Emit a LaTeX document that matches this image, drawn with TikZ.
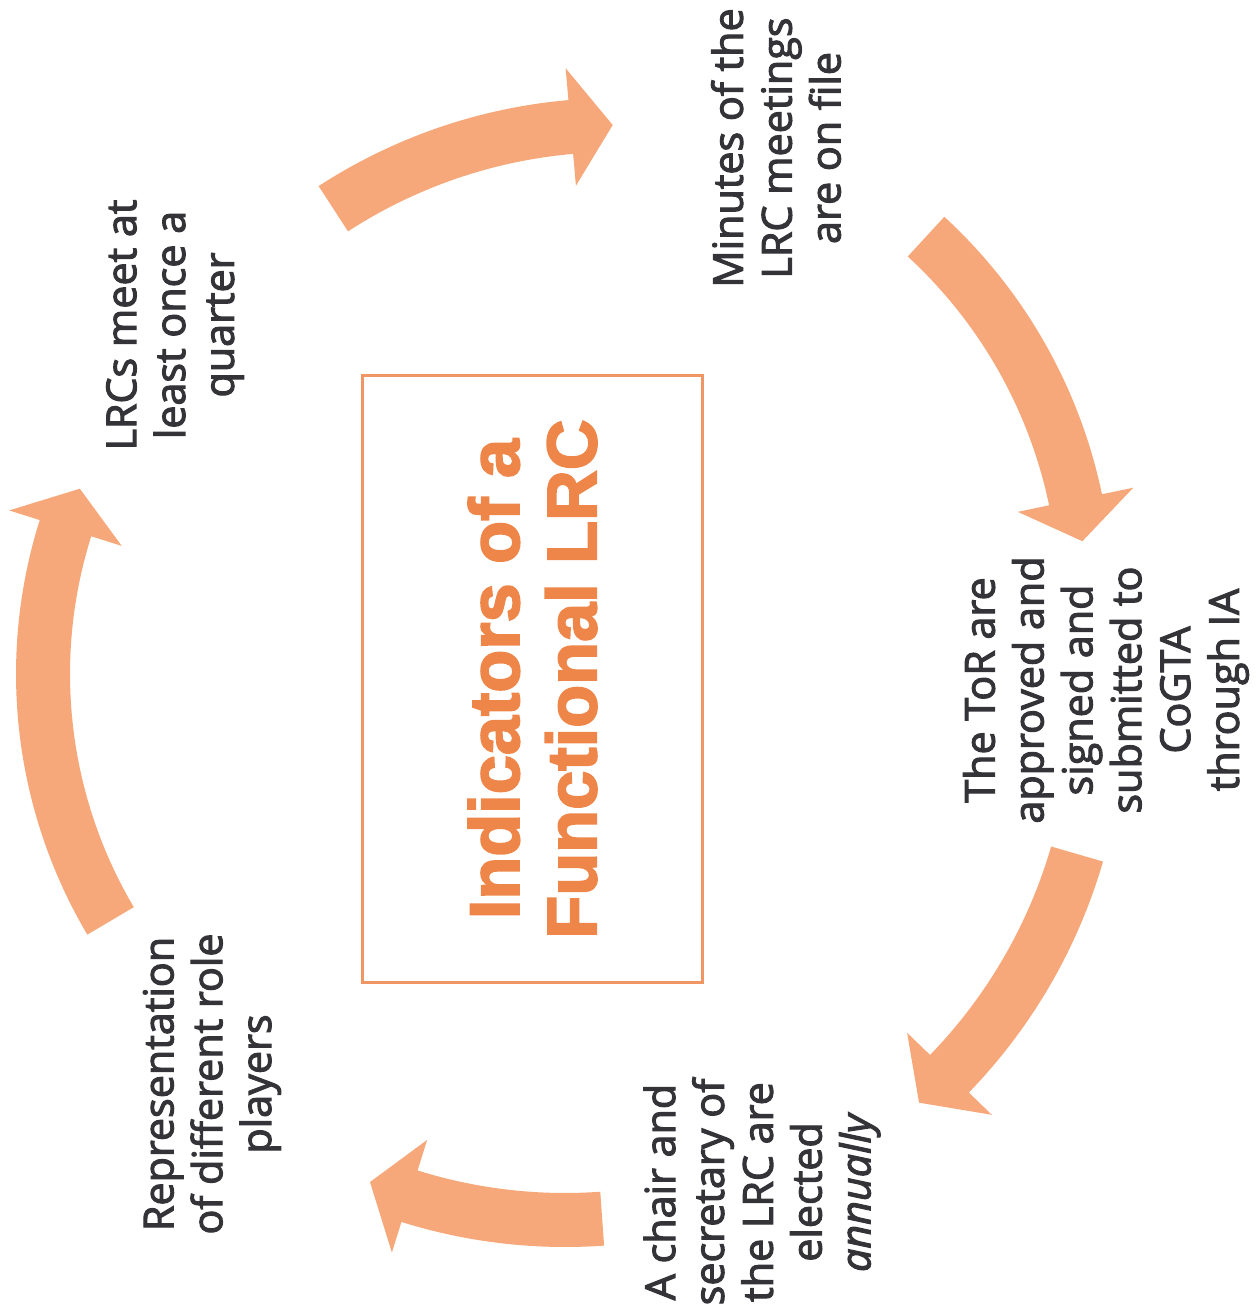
\documentclass[tikz,border=0pt]{standalone}
\usepackage{fontspec}
\setmainfont{Open Sans}[FakeBold=2.6]
\newfontfamily\titlefont{Liberation Sans}[FakeBold=2.6]
\usepackage{tikz}
\usetikzlibrary{calc}
\definecolor{arroworange}{RGB}{246,168,122}
\definecolor{boxorange}{RGB}{240,150,100}
\definecolor{titleorange}{RGB}{238,134,74}
\definecolor{labelgray}{RGB}{52,52,56}
\tikzset{
    label text/.style={rotate=90, align=center, text=labelgray, inner sep=0,
        font=\fontsize{23.5}{27.8}\selectfont},
    title box/.style={rotate=90, draw=boxorange, line width=1.7pt, align=center,
        text=titleorange, minimum width=12.16cm, minimum height=6.82cm,
        font=\titlefont\bfseries\fontsize{40}{44}\selectfont},
}
% bent arrow: centre x, centre y, radius, tail angle, head angle
\newcommand{\bentarrow}[5]{%
    \pgfmathsetmacro{\ro}{#3+27}
    \pgfmathsetmacro{\ri}{#3-27}
    \pgfmathsetmacro{\hro}{#3+59}
    \pgfmathsetmacro{\hri}{#3-59}
    \pgfmathsetmacro{\tipang}{#5+42/#3*57.3}
    \fill[arroworange] ($(#1,#2)+(#4:\ro)$) arc[start angle=#4, end angle=#5, radius=\ro]
        -- ($(#1,#2)+(#5:\hro)$) -- ($(#1,#2)+(\tipang:#3)$) -- ($(#1,#2)+(#5:\hri)$)
        -- ($(#1,#2)+(#5:\ri)$) arc[start angle=#5, end angle=#4, radius=\ri] -- cycle;
}

\begin{document}
\begin{tikzpicture}[x=0.02cm, y=-0.02cm]
    \useasboundingbox (0,0) rectangle (1255,1307);

    \node[title box] (title) at (532.5,679) {Indicators of a\\Functional LRC};

    \node[label text] (meet) at (175,325) {LRCs meet at\\least once a\\quarter};
    \node[label text] (minutes) at (776,148) {Minutes of the\\LRC meetings\\are on file};
    \node[label text] (tor) at (1106,690) {The ToR are\\approved and\\signed and\\submitted to\\CoGTA\\through IA};
    \node[label text] (chair) at (762,1192) {A chair and\\secretary of\\the LRC are\\elected\\\textit{annually}};
    \node[label text] (repr) at (212,1084) {Representation\\of different role\\players};

    \bentarrow{616}{644}{519}{237}{265}
    \bentarrow{591}{601}{495}{-47.4}{-11.8}
    \bentarrow{571}{707}{527}{16.2}{44.1}
    \bentarrow{565}{700}{520}{85.9}{107.4}
    \bentarrow{528}{674}{485}{149.4}{197.5}
\end{tikzpicture}
\end{document}
